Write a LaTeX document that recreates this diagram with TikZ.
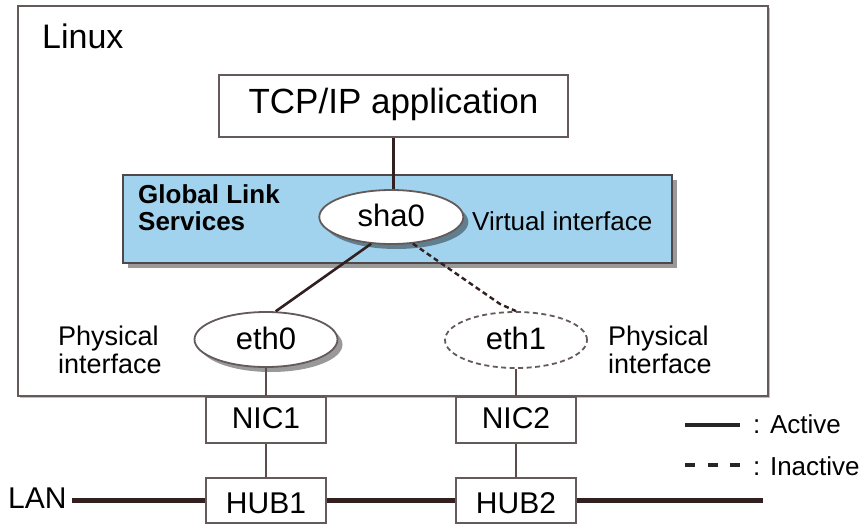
\documentclass[tikz,border=0pt]{standalone}
\usepackage{fontspec}
\setmainfont{Liberation Sans}
\usetikzlibrary{shapes.geometric,shadows}
\definecolor{lin}{RGB}{50,32,32}
\definecolor{edge}{RGB}{100,90,90}
\definecolor{glsblue}{RGB}{162,211,238}
\newcommand\fsz[1]{\fontsize{#1pt}{#1pt}\selectfont}
\begin{document}
\begin{tikzpicture}[x=1pt,y=-1pt,
  box/.style={rectangle, draw=edge, line width=2pt, fill=white, inner sep=0pt},
  ell/.style={ellipse, draw=edge, line width=1.8pt, fill=white, inner sep=0pt},
  txt/.style={inner sep=0pt, anchor=base west},
  conn/.style={draw=lin, line width=2.6pt},
  vconn/.style={draw=lin!80!white, line width=2.2pt},
  dconn/.style={draw=lin, line width=2.4pt, dash pattern=on 5pt off 3.5pt},
  lanline/.style={draw=lin, line width=5.5pt},
  shad/.style={drop shadow={shadow xshift=5pt, shadow yshift=-5pt, fill=black, opacity=.4}},
]
\useasboundingbox (0,0) rectangle (862,525);
% Linux host
\node[box, line width=1.8pt, minimum width=750pt, minimum height=390pt,
      drop shadow={shadow xshift=1.5pt, shadow yshift=-1.5pt, fill=black, opacity=.25}]
      (linux) at (393,201) {};
\node[txt, font=\fsz{34}] (linuxlbl) at (42,48) {Linux};
% TCP/IP application
\node[box, minimum width=349pt, minimum height=62pt, font=\fsz{35},
      text height=24.5pt, text depth=10.5pt] (tcp) at (393.5,106) {TCP/IP application};
% Global Link Services
\node[rectangle, draw=edge!80!black, line width=1.6pt, fill=glsblue, inner sep=0pt,
      minimum width=549pt, minimum height=88pt, shad] (gls) at (397.5,219) {};
\node[txt, font=\bfseries\fsz{26}] (gls1) at (138,203) {Global Link};
\node[txt, font=\bfseries\fsz{26}] (gls2) at (138,230) {Services};
\node[ell, minimum width=144pt, minimum height=54pt, font=\fsz{31},
      text height=25.4pt, text depth=5.6pt, shad] (sha0) at (391.3,217) {sha0};
\node[txt, font=\fsz{26}] (virt) at (472,230) {Virtual interface};
% physical interfaces
\node[ell, minimum width=143pt, minimum height=55pt, font=\fsz{31},
      text height=25.1pt, text depth=5.9pt, shad] (eth0) at (266,339.5) {eth0};
\node[ell, dash pattern=on 5pt off 3.5pt, minimum width=142pt, minimum height=56pt,
      font=\fsz{31}, text height=25.1pt, text depth=5.9pt] (eth1) at (516,340) {eth1};
\node[txt, font=\fsz{27}] (phys1a) at (58,345) {Physical};
\node[txt, font=\fsz{27}] (phys1b) at (58,373) {interface};
\node[txt, font=\fsz{27}] (phys2a) at (608,345) {Physical};
\node[txt, font=\fsz{27}] (phys2b) at (608,373) {interface};
% NICs and HUBs
\node[box, minimum width=120pt, minimum height=46pt, font=\fsz{30},
      text height=23.1pt, text depth=6.9pt] (nic1) at (266,420) {NIC1};
\node[box, minimum width=120pt, minimum height=46pt, font=\fsz{30},
      text height=23.1pt, text depth=6.9pt] (nic2) at (516,420) {NIC2};
\node[box, minimum width=120pt, minimum height=45pt, font=\fsz{30},
      text height=27.6pt, text depth=2.4pt] (hub1) at (266,500.5) {HUB1};
\node[box, minimum width=120pt, minimum height=45pt, font=\fsz{30},
      text height=27.6pt, text depth=2.4pt] (hub2) at (516,500.5) {HUB2};
\node[txt, font=\fsz{30}] (lan) at (8,508) {LAN};
\coordinate (lanend) at (763,500.5);
\coordinate (kink) at (500,304);
% connectors
\draw[conn] (tcp.south) -- (tcp.south |- sha0.north);
\draw[conn] (sha0.233) -- (eth0.71);
\draw[dconn] (sha0.309) -- (kink) -- (eth1.north);
\draw[vconn] (eth0) -- (nic1);
\draw[vconn] (eth1) -- (nic2);
\draw[vconn] (nic1) -- (hub1);
\draw[vconn] (nic2) -- (hub2);
\draw[lanline, shorten <=5pt] (lan.east |- hub1.west) -- (hub1.west);
\draw[lanline] (hub1.east) -- (hub2.west);
\draw[lanline] (hub2.east) -- (lanend);
% legend
\coordinate (la1) at (685,425);
\coordinate (la2) at (740,425);
\coordinate (li1) at (685,465);
\coordinate (li2) at (740,465);
\draw[draw=black!85, line width=4pt] (la1) -- (la2);
\draw[draw=black!85, line width=4pt, dash pattern=on 10pt off 12.5pt] (li1) -- (li2);
\node[txt, font=\fsz{26}] (act) at (753,433) {: Active};
\node[txt, font=\fsz{26}] (inact) at (753,475) {: Inactive};
\end{tikzpicture}
\end{document}
